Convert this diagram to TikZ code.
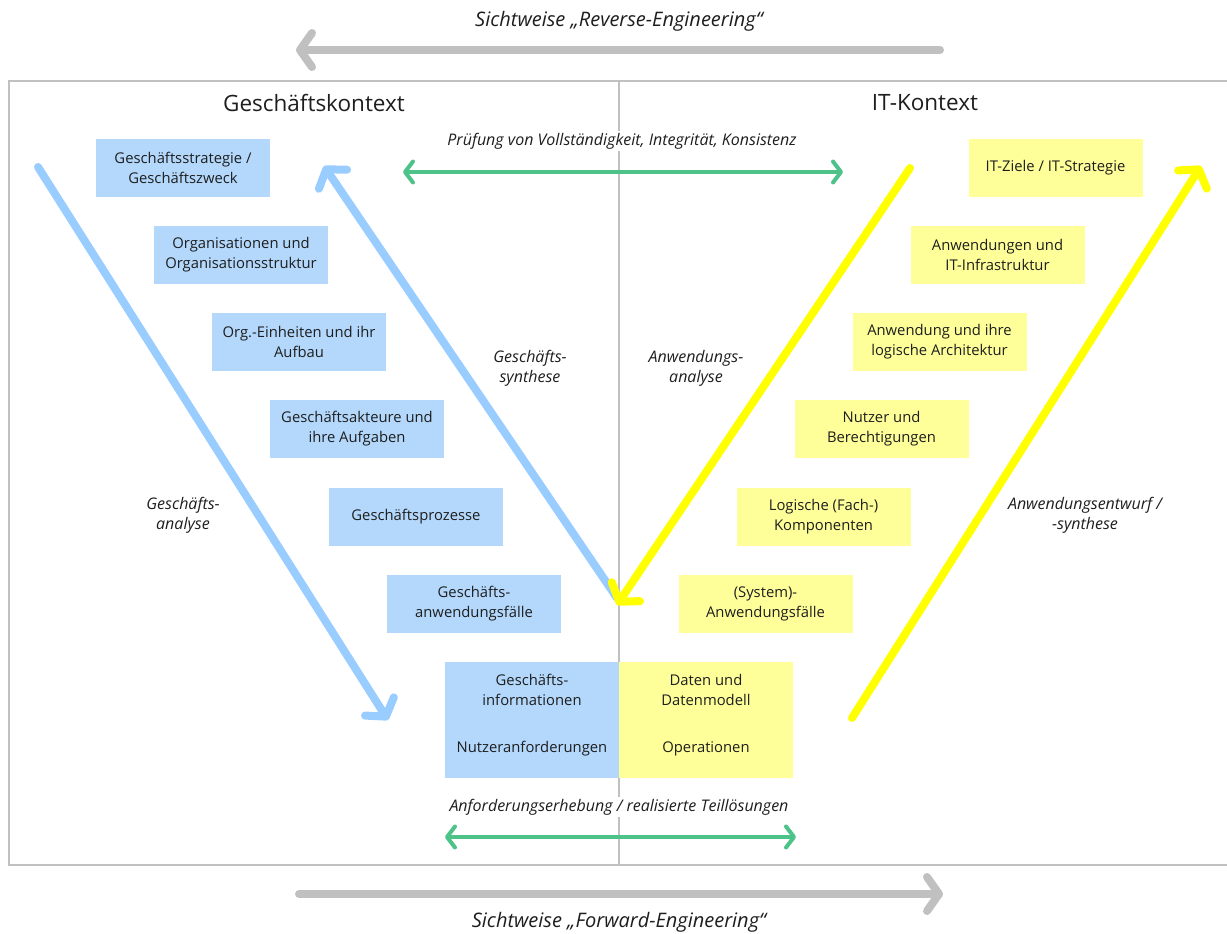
\documentclass[tikz,border=0pt]{standalone}
\usepackage{fontspec}
\setmainfont{Open Sans}
\usetikzlibrary{arrows.meta}
\definecolor{boxblue}{RGB}{179,216,252}
\definecolor{arrblue}{RGB}{153,204,255}
\definecolor{boxyellow}{RGB}{255,255,153}
\definecolor{arryellow}{RGB}{255,255,0}
\definecolor{arrgreen}{RGB}{77,195,138}
\definecolor{framegray}{RGB}{192,192,192}
\definecolor{txt}{RGB}{30,30,30}
\tikzset{
  stepbox/.style={minimum width=174pt, minimum height=58pt, inner sep=0pt,
    align=center, text=txt, font=\fontsize{14.8}{20}\selectfont},
  bluebox/.style={stepbox, fill=boxblue},
  yellowbox/.style={stepbox, fill=boxyellow},
  boxtext/.style={align=center, text=txt, inner sep=0pt, font=\fontsize{14.8}{20}\selectfont},
  lbl/.style={align=center, text=txt, inner sep=2pt, font=\fontsize{16}{20}\selectfont\itshape},
  viewlbl/.style={align=center, text=txt, inner sep=0pt, font=\fontsize{20}{24}\selectfont\itshape},
  headline/.style={text=txt, inner sep=0pt, font=\fontsize{22.5}{26}\selectfont},
  bigarrow/.style={line width=8pt, line cap=round,
    -{Straight Barb[length=12pt,width=34pt,round]}},
  greenarrow/.style={line width=4pt, line cap=round, draw=arrgreen,
    {Straight Barb[length=8pt,width=21pt,round]}-{Straight Barb[length=8pt,width=21pt,round]}},
}
\begin{document}
\begin{tikzpicture}[x=1pt,y=-1pt]
\useasboundingbox (0,0) rectangle (1227,934);

% frame and divider
\draw[framegray, line width=2pt] (1240,81) -- (9,81) -- (9,865) -- (1240,865);
\draw[framegray, line width=2pt] (619,81) -- (619,865);

% headings
\node[headline] (hbiz) at (314,103) {Geschäftskontext};
\node[headline] (hit) at (925,103) {IT-Kontext};

% view arrows
\coordinate (rvA) at (940,50);
\coordinate (rvB) at (296,50);
\draw[bigarrow, draw=framegray] (rvA) -- (rvB);
\node[viewlbl] (rvT) at (619,21) {Sichtweise „Reverse-Engineering“};
\coordinate (fwA) at (299,894);
\coordinate (fwB) at (943,894);
\draw[bigarrow, draw=framegray] (fwA) -- (fwB);
\node[viewlbl] (fwT) at (619,922) {Sichtweise „Forward-Engineering“};

% business boxes
\node[bluebox] (b1) at (183,168) {Geschäftsstrategie /\\Geschäftszweck};
\node[bluebox] (b2) at (241,255) {Organisationen und\\Organisationsstruktur};
\node[bluebox] (b3) at (299,342) {Org.-Einheiten und ihr\\Aufbau};
\node[bluebox] (b4) at (357,429) {Geschäftsakteure und\\ihre Aufgaben};
\node[bluebox] (b5) at (416,517) {Geschäftsprozesse};
\node[bluebox] (b6) at (474,604) {Geschäfts-\\anwendungsfälle};
\node[bluebox, minimum height=116pt] (b7) at (532,720) {};
\node[boxtext] (b7a) at (532,690) {Geschäfts-\\informationen};
\node[boxtext] (b7b) at (532,749) {Nutzeranforderungen};

% IT boxes
\node[yellowbox] (y1) at (1055.5,168) {IT-Ziele / IT-Strategie};
\node[yellowbox] (y2) at (997.5,255) {Anwendungen und\\IT-Infrastruktur};
\node[yellowbox] (y3) at (939.5,342) {Anwendung und ihre\\logische Architektur};
\node[yellowbox] (y4) at (881.5,429) {Nutzer und\\Berechtigungen};
\node[yellowbox] (y5) at (823.5,517) {Logische (Fach-)\\Komponenten};
\node[yellowbox] (y6) at (765.5,604) {(System)-\\Anwendungsfälle};
\node[yellowbox, minimum height=116pt] (y7) at (706,720) {};
\node[boxtext] (y7a) at (706,690) {Daten und\\Datenmodell};
\node[boxtext] (y7b) at (706,749) {Operationen};

% check labels with white background over the divider
\node[lbl, fill=white] (chk) at (622,141) {Prüfung von Vollständigkeit, Integrität, Konsistenz};
\node[lbl, fill=white] (req) at (619,807) {Anforderungserhebung / realisierte Teillösungen};

% green double arrows
\coordinate (gt1) at (403,172);
\coordinate (gt2) at (843,172);
\draw[greenarrow] (gt1) -- (gt2);
\coordinate (gb1) at (445,837);
\coordinate (gb2) at (796,837);
\draw[greenarrow] (gb1) -- (gb2);

% analysis / synthesis arrows
\coordinate (ba1) at (38,167);
\coordinate (ba2) at (388,720);
\draw[bigarrow, draw=arrblue] (ba1) -- (ba2);
\coordinate (bs1) at (617,598);
\coordinate (bs2) at (324,166);
\draw[bigarrow, draw=arrblue] (bs1) -- (bs2);
\coordinate (ya1) at (910,168);
\coordinate (ya2) at (617,605);
\draw[bigarrow, draw=arryellow] (ya1) -- (ya2);
\coordinate (ys1) at (852,718);
\coordinate (ys2) at (1201,166);
\draw[bigarrow, draw=arryellow] (ys1) -- (ys2);

% arrow labels
\node[lbl] (lba) at (183,515) {Geschäfts-\\analyse};
\node[lbl] (lbs) at (530,368) {Geschäfts-\\synthese};
\node[lbl] (lya) at (696,368) {Anwendungs-\\analyse};
\node[lbl] (lys) at (1085,515) {Anwendungsentwurf /\\-synthese};
\end{tikzpicture}
\end{document}
